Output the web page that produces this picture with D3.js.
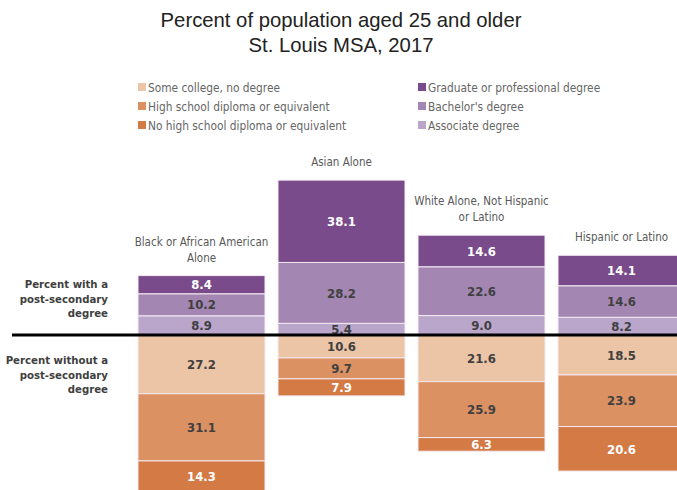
<!DOCTYPE html>
<html>
<head>
<meta charset="utf-8">
<script src="https://cdn.jsdelivr.net/npm/d3@7"></script>
<style>
  body { margin: 0; background: #fff; }
  svg { display: block; }
  .lbl { font-family: 'DejaVu Sans Condensed', 'DejaVu Sans', Verdana, sans-serif; }
</style>
</head>
<body>
<svg id="chart"></svg>
<script>
// data
const groups = ['Black or African American Alone', 'Asian Alone', 'White Alone, Not Hispanic or Latino', 'Hispanic or Latino'];
const groupLines = [['Black or African American', 'Alone'], ['Asian Alone'], ['White Alone, Not Hispanic', 'or Latino'], ['Hispanic or Latino']];

// above the line (from baseline up)
const aboveKeys = ['Associate degree', "Bachelor's degree", 'Graduate or professional degree'];
const associate = [8.9, 5.4, 9.0, 8.2];
const bachelor = [10.2, 28.2, 22.6, 14.6];
const graduate = [8.4, 38.1, 14.6, 14.1];

// below the line (from baseline down)
const belowKeys = ['Some college, no degree', 'High school diploma or equivalent', 'No high school diploma or equivalent'];
const someCollege = [27.2, 10.6, 21.6, 18.5];
const highSchool = [31.1, 9.7, 25.9, 23.9];
const noHighSchool = [14.3, 7.9, 6.3, 20.6];

const colors = {
  'Graduate or professional degree': '#7a4b8a',
  "Bachelor's degree": '#a386b2',
  'Associate degree': '#bba6cb',
  'Some college, no degree': '#ecc4a6',
  'High school diploma or equivalent': '#dc9163',
  'No high school diploma or equivalent': '#d37a45'
};
const whiteLabel = ['Graduate or professional degree', 'No high school diploma or equivalent'];

const W = 677, H = 490, base = 335;
const svg = d3.select('#chart').attr('width', W).attr('height', H);

const x = d3.scaleBand().domain(groups).range([138, 685]).paddingInner(0.093).paddingOuter(0);
const y = d3.scaleLinear().domain([-75, 75]).range([base + 162, base - 162]);

// build segments
const segs = [];
const aboveVals = [associate, bachelor, graduate];
const belowVals = [someCollege, highSchool, noHighSchool];
groups.forEach((g, i) => {
  let acc = 0;
  aboveKeys.forEach((k, j) => {
    const v = aboveVals[j][i];
    segs.push({ g, key: k, v, y0: acc, y1: acc + v });
    acc += v;
  });
  acc = 0;
  belowKeys.forEach((k, j) => {
    const v = belowVals[j][i];
    segs.push({ g, key: k, v, y0: -acc, y1: -(acc + v) });
    acc += v;
  });
});

// title
['Percent of population aged 25 and older', 'St. Louis MSA, 2017'].forEach((t, k) => {
  svg.append('text').attr('x', 341).attr('y', 27 + k * 25).attr('text-anchor', 'middle')
    .style('font-family', 'Liberation Sans, Arial, sans-serif').style('font-size', '20.3px').attr('fill', '#222')
    .text(t);
});

// legend
const legendItems = [
  { key: 'Some college, no degree', col: 0, row: 0 },
  { key: 'High school diploma or equivalent', col: 0, row: 1 },
  { key: 'No high school diploma or equivalent', col: 0, row: 2 },
  { key: 'Graduate or professional degree', col: 1, row: 0 },
  { key: "Bachelor's degree", col: 1, row: 1 },
  { key: 'Associate degree', col: 1, row: 2 }
];
const legend = svg.append('g');
legendItems.forEach(d => {
  const lx = d.col === 0 ? 138 : 418;
  const ly = 88 + d.row * 19;
  legend.append('rect').attr('x', lx).attr('y', ly - 5).attr('width', 8).attr('height', 8).attr('fill', colors[d.key]);
  legend.append('text').attr('class', 'lbl').attr('x', lx + 10).attr('y', ly).attr('dy', '0.35em')
    .style('font-size', '11.8px').attr('fill', '#666')
    .text(d.key);
});

// bars
svg.append('g').selectAll('rect').data(segs).enter().append('rect')
  .attr('x', d => x(d.g))
  .attr('y', d => y(Math.max(d.y0, d.y1)))
  .attr('width', x.bandwidth())
  .attr('height', d => Math.abs(y(d.y0) - y(d.y1)))
  .attr('fill', d => colors[d.key])
  .attr('stroke', '#f4eaf2').attr('stroke-width', 1);

// value labels
svg.append('g').selectAll('text').data(segs).enter().append('text').attr('class', 'lbl')
  .attr('x', d => x(d.g) + x.bandwidth() / 2)
  .attr('y', d => (y(d.y0) + y(d.y1)) / 2)
  .attr('dy', '0.36em')
  .attr('text-anchor', 'middle')
  .style('font-size', '13px').style('font-weight', 'bold')
  .attr('fill', d => whiteLabel.includes(d.key) ? '#fff' : '#404040')
  .text(d => d.v.toFixed(1));

// group labels
groups.forEach((g, i) => {
  const top = y(associate[i] + bachelor[i] + graduate[i]);
  const lines = groupLines[i];
  lines.forEach((t, k) => {
    svg.append('text').attr('class', 'lbl')
      .attr('x', x(g) + x.bandwidth() / 2)
      .attr('y', top - 14 - (lines.length - 1 - k) * 16)
      .attr('text-anchor', 'middle')
      .style('font-size', '11.5px').attr('fill', '#595959')
      .text(t);
  });
});

// baseline
svg.append('line').attr('x1', 12).attr('x2', W).attr('y1', y(0)).attr('y2', y(0))
  .attr('stroke', '#000').attr('stroke-width', 3);

// side labels
const sideLabels = [
  { lines: ['Percent with a', 'post-secondary', 'degree'], y: 288 },
  { lines: ['Percent without a', 'post-secondary', 'degree'], y: 364 }
];
sideLabels.forEach(s => {
  s.lines.forEach((t, k) => {
    svg.append('text').attr('class', 'lbl').attr('x', 108).attr('y', s.y + k * 14.5).attr('text-anchor', 'end')
      .style('font-size', '11.3px').style('font-weight', 'bold')
      .attr('fill', '#404040').text(t);
  });
});
</script>
</body>
</html>
